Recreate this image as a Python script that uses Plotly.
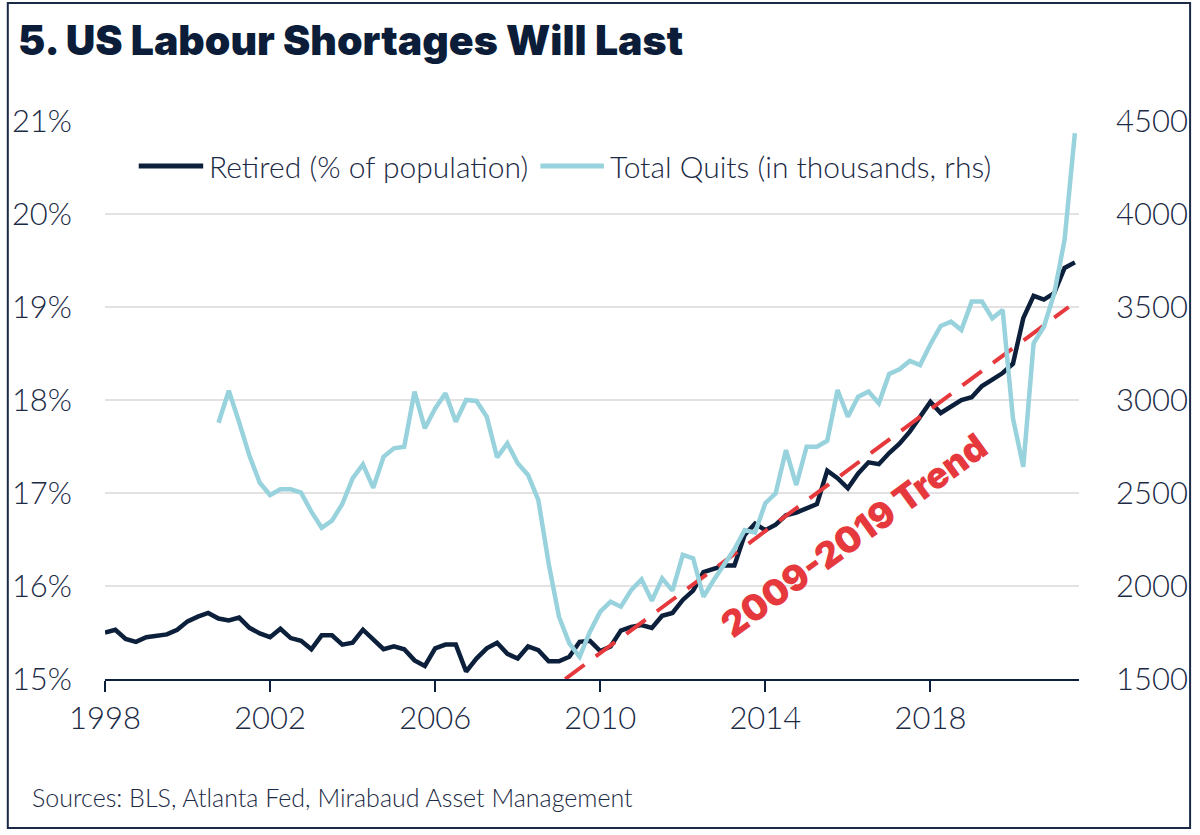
import plotly.graph_objects as go

# ---- data (quarterly, 1998Q1 .. 2021Q3) ----
start_year = 1998.0
retired_pct = [
    15.50, 15.53, 15.43, 15.40, 15.45, 15.47, 15.48, 15.53, 15.62, 15.67,
    15.71, 15.65, 15.63, 15.66, 15.55, 15.49, 15.45, 15.54, 15.44, 15.41,
    15.32, 15.47, 15.47, 15.37, 15.39, 15.53, 15.42, 15.32, 15.35, 15.32,
    15.20, 15.14, 15.33, 15.37, 15.37, 15.08, 15.22, 15.33, 15.39, 15.27,
    15.22, 15.35, 15.31, 15.19, 15.19, 15.24, 15.40, 15.41, 15.30, 15.35,
    15.52, 15.56, 15.58, 15.55, 15.68, 15.71, 15.85, 15.95, 16.15, 16.19,
    16.22, 16.22, 16.55, 16.67, 16.60, 16.66, 16.76, 16.79, 16.83, 16.88,
    17.24, 17.16, 17.05, 17.21, 17.33, 17.31, 17.43, 17.53, 17.66, 17.81,
    17.98, 17.86, 17.93, 18.00, 18.03, 18.15, 18.22, 18.29, 18.39, 18.88,
    19.12, 19.08, 19.15, 19.42, 19.48,
]
# Quits start in 2000Q4
quits_start_year = 2000.75
total_quits = [
    2878, 3050, 2880, 2700, 2555, 2489, 2520, 2520, 2502, 2400,
    2313, 2351, 2441, 2579, 2654, 2528, 2695, 2740, 2749, 3045,
    2848, 2955, 3036, 2883, 3000, 2995, 2910, 2692, 2767, 2660,
    2597, 2462, 2120, 1835, 1692, 1620, 1754, 1862, 1916, 1889,
    1978, 2036, 1921, 2041, 1975, 2167, 2149, 1942, 2032, 2113,
    2197, 2301, 2287, 2445, 2498, 2731, 2543, 2749, 2749, 2781,
    3054, 2910, 3018, 3045, 2982, 3140, 3165, 3210, 3188, 3300,
    3398, 3421, 3376, 3529, 3529, 3439, 3484, 2901, 2641, 3305,
    3394, 3573, 3860, 4434,
]
trend_x = [2009.15, 2021.35]
trend_y = [15.0, 19.0]

x_tick_vals = [1998, 2002, 2006, 2010, 2014, 2018]
x_tick_text = ["1998", "2002", "2006", "2010", "2014", "2018"]
left_tick_vals = [15, 16, 17, 18, 19, 20, 21]
left_tick_text = ["15%", "16%", "17%", "18%", "19%", "20%", "21%"]
right_tick_vals = [1500, 2000, 2500, 3000, 3500, 4000, 4500]
right_tick_text = ["1500", "2000", "2500", "3000", "3500", "4000", "4500"]

series_names = ["Retired (% of population)", "Total Quits (in thousands, rhs)"]

retired_x = [start_year + 0.25 * i for i in range(len(retired_pct))]
quits_x = [quits_start_year + 0.25 * i for i in range(len(total_quits))]

NAVY = "#0c1f3b"
LIGHT = "#98d2dd"
RED = "#e6393d"
TXT = "#1b2a45"
FONT = "Lato"
HEAVY = "Inter"

fig = go.Figure()
fig.add_trace(go.Scatter(
    x=retired_x, y=retired_pct, name=series_names[0],
    mode="lines", line=dict(color=NAVY, width=4.5), yaxis="y", showlegend=False))
fig.add_trace(go.Scatter(
    x=quits_x, y=total_quits, name=series_names[1],
    mode="lines", line=dict(color=LIGHT, width=4.5), yaxis="y2", showlegend=False))
fig.add_trace(go.Scatter(
    x=trend_x, y=trend_y, name="2009-2019 Trend", showlegend=False,
    mode="lines", line=dict(color=RED, width=4, dash="24px,14px"), yaxis="y"))

L, R, T, B = 101, 1083, 121, 679
W, H = 1200, 835
pw, ph = R - L, B - T

def px(xp):
    return (xp - L) / pw

def py(yp):
    return (B - yp) / ph

# legend drawn as line samples + labels
legend_y = 166
legend_items = [
    dict(x0=135, x1=200, tx=204, color=NAVY, text=series_names[0]),
    dict(x0=540, x1=604, tx=608, color=LIGHT, text=series_names[1]),
]

shapes = [
    dict(type="rect", xref="paper", yref="paper", x0=px(3), x1=px(1195),
         y0=py(3), y1=py(828), line=dict(color="#1b2a45", width=2), layer="below"),
]
annotations = [
    dict(text="5. US Labour Shortages Will Last", xref="paper", yref="paper",
         x=px(11), y=py(40), xanchor="left", yanchor="middle", showarrow=False,
         font=dict(size=41, color="#0b1d38", family=HEAVY, weight=900)),
    dict(text="Sources: BLS, Atlanta Fed, Mirabaud Asset Management", xref="paper",
         yref="paper", x=px(25), y=py(797), xanchor="left", yanchor="middle",
         showarrow=False, font=dict(size=25, color=TXT, family=FONT, weight=300)),
    dict(text="2009-2019 Trend", xref="x", yref="y", x=2016.15, y=16.55,
         textangle=-36, showarrow=False,
         font=dict(size=36, color=RED, family=HEAVY, weight=900)),
]
for it in legend_items:
    shapes.append(dict(type="line", xref="paper", yref="paper",
                       x0=px(it["x0"]), x1=px(it["x1"]), y0=py(legend_y), y1=py(legend_y),
                       line=dict(color=it["color"], width=5)))
    annotations.append(dict(text=it["text"], xref="paper", yref="paper",
                            x=px(it["tx"]), y=py(legend_y), xanchor="left", yanchor="middle",
                            showarrow=False,
                            font=dict(size=30, color=TXT, family=FONT, weight=300)))

fig.update_layout(
    width=W, height=H,
    margin=dict(l=L, r=W - R, t=T, b=H - B),
    paper_bgcolor="white", plot_bgcolor="white",
    font=dict(family=FONT, color=TXT),
    showlegend=False,
    xaxis=dict(range=[1998, 2021.6], tickmode="array", tickvals=x_tick_vals,
               ticktext=x_tick_text, showgrid=False, zeroline=False,
               showline=True, linecolor=NAVY, linewidth=2,
               ticks="outside", ticklen=11, tickwidth=2, tickcolor=NAVY,
               tickfont=dict(size=31, color=TXT, family=FONT, weight=300)),
    yaxis=dict(range=[15, 21], tickmode="array", tickvals=left_tick_vals,
               ticktext=left_tick_text, showgrid=True, gridcolor="#e2e2e2", gridwidth=2,
               zeroline=False, showline=False, ticks="", ticklabelstandoff=32,
               tickfont=dict(size=31, color=TXT, family=FONT, weight=300)),
    yaxis2=dict(range=[1500, 4500], tickmode="array", tickvals=right_tick_vals,
                ticktext=right_tick_text, overlaying="y", side="right",
                showgrid=False, zeroline=False, showline=False, ticks="",
                ticklabelstandoff=36,
                tickfont=dict(size=31, color=TXT, family=FONT, weight=300)),
    annotations=annotations,
    shapes=shapes,
)

fig.write_html(
    "out.html",
    config={"displayModeBar": False},
    post_script="document.body.style.margin='0';document.body.style.overflow='hidden';",
)
